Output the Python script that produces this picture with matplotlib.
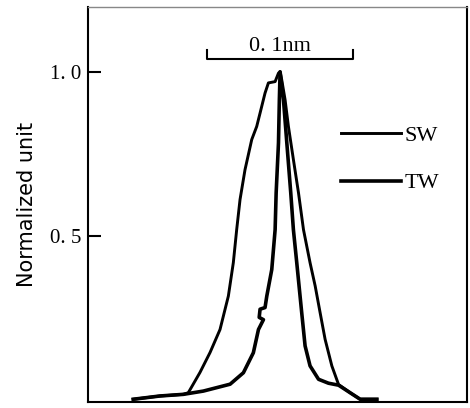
import matplotlib.pyplot as plt

# wavelength offset from peak (nm) and normalized intensity
sw_x = [-0.1005, -0.0822, -0.0662, -0.0628, -0.0548, -0.0479, -0.0411, -0.0354, -0.0320,
        -0.0297, -0.0274, -0.0240, -0.0194, -0.0160, -0.0137, -0.0103, -0.0080, -0.0034,
        -0.0011, 0.0,
        0.0011, 0.0034, 0.0057, 0.0091, 0.0126, 0.0160, 0.0205, 0.0240, 0.0274, 0.0308,
        0.0354, 0.0400, 0.0479, 0.0548, 0.0662]
sw_y = [0.0, 0.010, 0.015, 0.020, 0.082, 0.143, 0.213, 0.315, 0.417,
        0.518, 0.610, 0.701, 0.793, 0.833, 0.874, 0.935, 0.966, 0.970,
        0.996, 1.0,
        0.976, 0.915, 0.833, 0.732, 0.630, 0.518, 0.417, 0.346, 0.264, 0.183,
        0.102, 0.045, 0.020, 0.0, 0.0]

tw_x = [-0.1005, -0.0822, -0.0662, -0.0525, -0.0342, -0.0251, -0.0183, -0.0148, -0.0114,
        -0.0143, -0.0137, -0.0103, -0.0091, -0.0057, -0.0034, -0.0027, -0.0011, -0.0005, 0.0,
        0.0023, 0.0046, 0.0073, 0.0091, 0.0114, 0.0148, 0.0171, 0.0205, 0.0263, 0.0331,
        0.0400, 0.0479, 0.0548, 0.0662]
tw_y = [0.0, 0.010, 0.015, 0.025, 0.046, 0.081, 0.142, 0.213, 0.243,
        0.250, 0.275, 0.280, 0.315, 0.396, 0.518, 0.630, 0.783, 0.915, 1.0,
        0.915, 0.783, 0.630, 0.518, 0.417, 0.264, 0.163, 0.102, 0.061, 0.049,
        0.043, 0.020, 0.0, 0.0]

yticks = [0.5, 1.0]
ytick_labels = ['0. 5', '1. 0']
scale_bar = (-0.05, 0.05)   # 0.1 nm

serif = 'Liberation Serif'

fig = plt.figure(figsize=(4.7, 4.08), dpi=100)
ax = fig.add_axes([0.187, 0.015, 0.807, 0.968])

ax.plot(sw_x, sw_y, color='black', lw=2.1, label='SW', solid_joinstyle='round')
ax.plot(tw_x, tw_y, color='black', lw=2.6, label='TW', solid_joinstyle='round')

ax.set_xlim(-0.1315, 0.128)
ax.set_ylim(-0.008, 1.198)
ax.set_xticks([])
ax.set_yticks(yticks)
ax.set_yticklabels(ytick_labels, fontfamily=serif, fontsize=15)
ax.tick_params(axis='y', direction='in', length=9, width=1.5, pad=5)
for s in ax.spines.values():
    s.set_linewidth(1.5)
ax.spines['top'].set_color('#888888')
ax.spines['top'].set_linewidth(1.0)

ax.set_ylabel('Normalized unit', fontfamily='DejaVu Sans', fontsize=15, labelpad=9)

# scale bar
x0, x1 = scale_bar
ax.plot([x0, x0, x1, x1], [1.067, 1.04, 1.04, 1.067], color='black', lw=1.5)
ax.text((x0 + x1) / 2, 1.048, '0. 1nm', ha='center', va='bottom', fontfamily=serif, fontsize=16)

leg = ax.legend(loc='upper left', bbox_to_anchor=(0.615, 0.75), frameon=False,
                handlelength=2.7, handletextpad=0.15, labelspacing=1.2,
                prop={'family': serif, 'size': 16})

fig.savefig('out.png', dpi=100)
